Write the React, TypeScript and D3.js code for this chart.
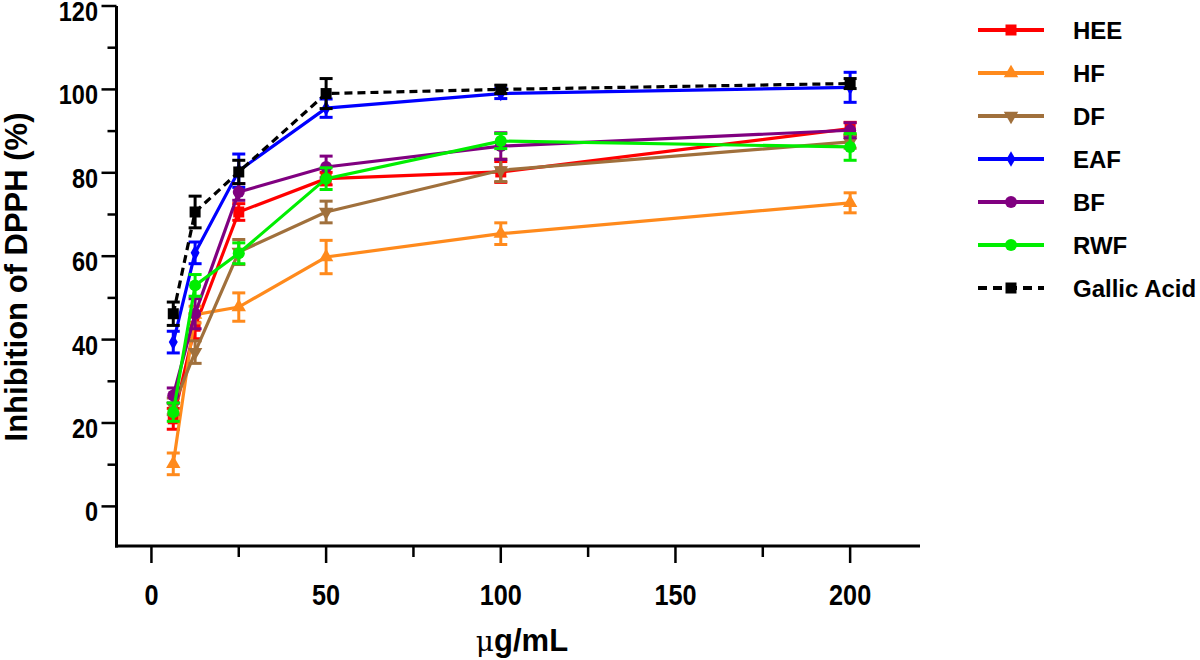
import React from "react";
import * as d3 from "d3";

const concentrations = [6.25, 12.5, 25, 50, 100, 200];
const xTicks = [0, 50, 100, 150, 200];
const xMinorTicks = [25, 75, 125, 175];
const yTicks = [0, 20, 40, 60, 80, 100, 120];
const yMinorTicks = [10, 30, 50, 70, 90, 110];

const heeValues = [21, 43.2, 70.6, 78.6, 80.2, 90.6];
const heeErrors = [2.5, 3, 2, 1.5, 2.5, 1.5];
const hfValues = [10.2, 46, 47.8, 59.8, 65.4, 72.8];
const hfErrors = [2.6, 2, 3.4, 4, 2.6, 2.4];
const dfValues = [24, 37, 61, 70.6, 80.6, 87.4];
const dfErrors = [2, 2.7, 3, 2.6, 2.7, 1.5];
const eafValues = [39.4, 60.8, 80.5, 95.5, 99, 100.5];
const eafErrors = [2.6, 2.6, 4, 2.2, 1.2, 3.6];
const bfValues = [26.6, 46.2, 75.4, 81.4, 86.4, 90.2];
const bfErrors = [1.8, 3.6, 2, 2.6, 3.2, 1.8];
const rwfValues = [22.6, 53, 60.7, 78.6, 87.6, 86.2];
const rwfErrors = [2.2, 2.6, 2.5, 2.6, 1.8, 3.2];
const gallicValues = [46.2, 70.6, 80.2, 99, 100, 101.4];
const gallicErrors = [2.8, 3.8, 2.8, 3.6, 1, 1.2];

const seriesNames = ["HEE", "HF", "DF", "EAF", "BF", "RWF", "Gallic Acid"];
const seriesColors = ["#FF0000", "#FF8A1C", "#A0703C", "#0000FF", "#800080", "#00EE00", "#000000"];
const seriesMarkers = ["square", "triangleUp", "triangleDown", "diamond", "circle", "circle", "square"];
const seriesValues = [heeValues, hfValues, dfValues, eafValues, bfValues, rwfValues, gallicValues];
const seriesErrors = [heeErrors, hfErrors, dfErrors, eafErrors, bfErrors, rwfErrors, gallicErrors];

const FONT = "'Liberation Sans', Arial, sans-serif";

function Marker({ type, x, y, color }: { type: string; x: number; y: number; color: string }) {
  if (type === "square") return <rect x={x - 5.5} y={y - 5.5} width={11} height={11} fill={color} />;
  if (type === "circle") return <circle cx={x} cy={y} r={6} fill={color} />;
  const sym =
    type === "diamond" ? d3.symbol(d3.symbolDiamond, 70) : d3.symbol(d3.symbolTriangle, 90);
  const rot = type === "triangleDown" ? 180 : 0;
  return <path d={sym() || ""} transform={`translate(${x},${y}) rotate(${rot})`} fill={color} />;
}

export default function App() {
  const x = d3.scaleLinear().domain([-10, 220]).range([116.5, 920]);
  const y = d3.scaleLinear().domain([-9.5, 120]).range([546, 6]);
  const line = d3
    .line<number>()
    .x((_, i) => x(concentrations[i]))
    .y((d) => y(d));

  const axisColor = "#000";
  const tickScale = 0.87;
  return (
    <svg width={1200} height={660} style={{ position: "absolute", left: 0, top: 0, background: "#fff" }}>
      <rect x={0} y={0} width={1200} height={660} fill="#fff" />
      {/* Axes */}
      <line x1={x(-10)} x2={x(-10)} y1={y(120)} y2={y(-9.5) + 1.5} stroke={axisColor} strokeWidth={3} />
      <line x1={x(-10) - 1.5} x2={x(220)} y1={y(-9.5)} y2={y(-9.5)} stroke={axisColor} strokeWidth={3} />
      {yTicks.map((t) => (
        <g key={"yt" + t}>
          <line x1={x(-10) - 15} x2={x(-10)} y1={y(t)} y2={y(t)} stroke={axisColor} strokeWidth={2.5} />
          <text
            transform={`translate(98,${y(t) + 15}) scale(${tickScale},1)`}
            textAnchor="end"
            fontFamily={FONT}
            fontWeight="bold"
            fontSize={27}
          >
            {t}
          </text>
        </g>
      ))}
      {yMinorTicks.map((t) => (
        <line key={"ym" + t} x1={x(-10) - 9} x2={x(-10)} y1={y(t)} y2={y(t)} stroke={axisColor} strokeWidth={2.5} />
      ))}
      {xTicks.map((t) => (
        <g key={"xt" + t}>
          <line x1={x(t)} x2={x(t)} y1={y(-9.5) + 1} y2={y(-9.5) + 17} stroke={axisColor} strokeWidth={2.5} />
          <text
            transform={`translate(${x(t)},605) scale(${tickScale},1)`}
            textAnchor="middle"
            fontFamily={FONT}
            fontWeight="bold"
            fontSize={29}
          >
            {t}
          </text>
        </g>
      ))}
      {xMinorTicks.map((t) => (
        <line key={"xm" + t} x1={x(t)} x2={x(t)} y1={y(-9.5) + 1} y2={y(-9.5) + 11} stroke={axisColor} strokeWidth={2.5} />
      ))}
      <text x={522} y={651} textAnchor="middle" fontFamily={FONT} fontWeight="bold" fontSize={31}>
        <tspan fontWeight="normal" fontFamily="'DejaVu Serif', serif" fontSize={28}>μ</tspan>g/mL
      </text>
      <text
        transform={`translate(27,277) rotate(-90)`}
        textAnchor="middle"
        fontFamily={FONT}
        fontWeight="bold"
        fontSize={31}
      >
        Inhibition of DPPH (%)
      </text>

      {/* Series */}
      {seriesNames.map((name, si) => {
        const color = seriesColors[si];
        const vals = seriesValues[si];
        const errs = seriesErrors[si];
        return (
          <g key={name}>
            <path
              d={line(vals) || ""}
              fill="none"
              stroke={color}
              strokeWidth={3.2}
              strokeDasharray={si === 6 ? "8,5" : undefined}
            />
            {vals.map((v, i) => {
              const cx = x(concentrations[i]);
              const yTop = y(v + errs[i]);
              const yBot = y(v - errs[i]);
              return (
                <g key={i}>
                  <line x1={cx} x2={cx} y1={yTop} y2={yBot} stroke={color} strokeWidth={3} />
                  <line x1={cx - 6.5} x2={cx + 6.5} y1={yTop} y2={yTop} stroke={color} strokeWidth={3} />
                  <line x1={cx - 6.5} x2={cx + 6.5} y1={yBot} y2={yBot} stroke={color} strokeWidth={3} />
                  <Marker type={seriesMarkers[si]} x={cx} y={y(v)} color={color} />
                </g>
              );
            })}
          </g>
        );
      })}

      {/* Legend */}
      {seriesNames.map((name, si) => {
        const ly = 30 + si * 43;
        const color = seriesColors[si];
        return (
          <g key={"lg" + name}>
            <line
              x1={978}
              x2={1044}
              y1={ly}
              y2={ly}
              stroke={color}
              strokeWidth={4}
              strokeDasharray={si === 6 ? "9,6" : undefined}
            />
            <Marker type={seriesMarkers[si]} x={1011} y={ly} color={color} />
            <text x={1073} y={ly} dy="0.36em" fontFamily={FONT} fontWeight="bold" fontSize={24}>
              {name}
            </text>
          </g>
        );
      })}
    </svg>
  );
}
